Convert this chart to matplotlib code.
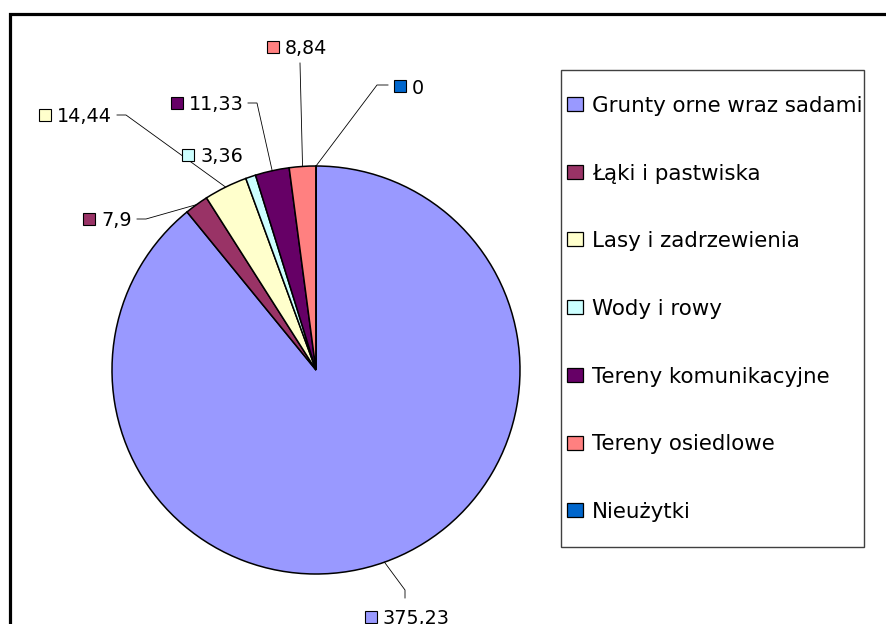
import numpy as np
import matplotlib.pyplot as plt
from matplotlib.patches import Rectangle

# data
categories = ['Grunty orne wraz sadami', 'Łąki i pastwiska', 'Lasy i zadrzewienia',
              'Wody i rowy', 'Tereny komunikacyjne', 'Tereny osiedlowe', 'Nieużytki']
values = [375.23, 7.9, 14.44, 3.36, 11.33, 8.84, 0]
colors = ['#9999FF', '#993366', '#FFFFCC', '#CCFFFF', '#660066', '#FF8080', '#0066CC']

# layout in pixels (figure is 887x624 at dpi 100)
W, H = 887, 624
CX, CY, R = 316, 370, 204


def px(x, y):
    # pixel position -> data coords of the full-figure axes
    return (x - CX) / R, (CY - y) / R


# label marker position + leader bends (pixels), one per category
label_pos = [(371, 617), (89, 219), (45, 115), (188, 155), (177, 103), (273, 47), (400, 86)]
leader_bends = [[(405, 598), (405, 590)],
                [(137, 219), (146, 219)],
                [(117, 115), (126, 115)],
                [],
                [(248, 103), (257, 103)],
                [(300, 63)],
                [(388, 85), (377, 85)]]

fig = plt.figure(figsize=(W / 100, H / 100), dpi=100)
ax = fig.add_axes([0, 0, 1, 1])

wedges, _ = ax.pie(values, colors=colors, startangle=90, counterclock=False,
                   radius=1, center=(0, 0),
                   wedgeprops=dict(edgecolor='black', linewidth=1.1))
ax.set_xlim(-CX / R, (W - CX) / R)
ax.set_ylim(-(H - CY) / R, CY / R)
ax.set_aspect('equal')
ax.axis('off')

# data labels with leader lines
for w, v, c, pos, bends in zip(wedges, values, colors, label_pos, leader_bends):
    mid = np.deg2rad((w.theta1 + w.theta2) / 2)
    anchor = (np.cos(mid), np.sin(mid))
    if bends:
        pts = [px(*b) for b in bends] + [anchor]
        ax.plot([p[0] for p in pts], [p[1] for p in pts], color='black', lw=0.6,
                clip_on=False)
    mx, my = px(*pos)
    ax.plot(mx, my, marker='s', markersize=8, markerfacecolor=c,
            markeredgecolor='black', markeredgewidth=0.8, clip_on=False)
    tx, ty = px(pos[0] + 12, pos[1])
    ax.text(tx, ty, f'{v:g}'.replace('.', ','), fontsize=13.8, va='center_baseline',
            ha='left')

# legend box drawn by hand
lx0, ly0, lx1, ly1 = px(561, 547) + px(864, 70)
ax.add_patch(Rectangle((lx0, lx0 * 0 + ly0), lx1 - lx0, ly1 - ly0, facecolor='white',
                       edgecolor='#404040', lw=1.0, clip_on=False))
for i, (name, c) in enumerate(zip(categories, colors)):
    yc = 104 + i * 67.7
    sx, sy = px(567, yc + 7)
    ax.add_patch(Rectangle((sx, sy), 16 / R, 14 / R, facecolor=c, edgecolor='black',
                           lw=0.9, clip_on=False))
    tx, ty = px(592, yc)
    ax.text(tx, ty, name, fontsize=15.4, va='center_baseline', ha='left')

# outer chart frame (only left and top edges are inside the picture)
fx, fy = px(10, 700)
ax.add_patch(Rectangle((fx, fy), 1000 / R, (700 - 14) / R, facecolor='none',
                       edgecolor='black', lw=2.3, clip_on=False))

fig.savefig('out.png', dpi=100)
